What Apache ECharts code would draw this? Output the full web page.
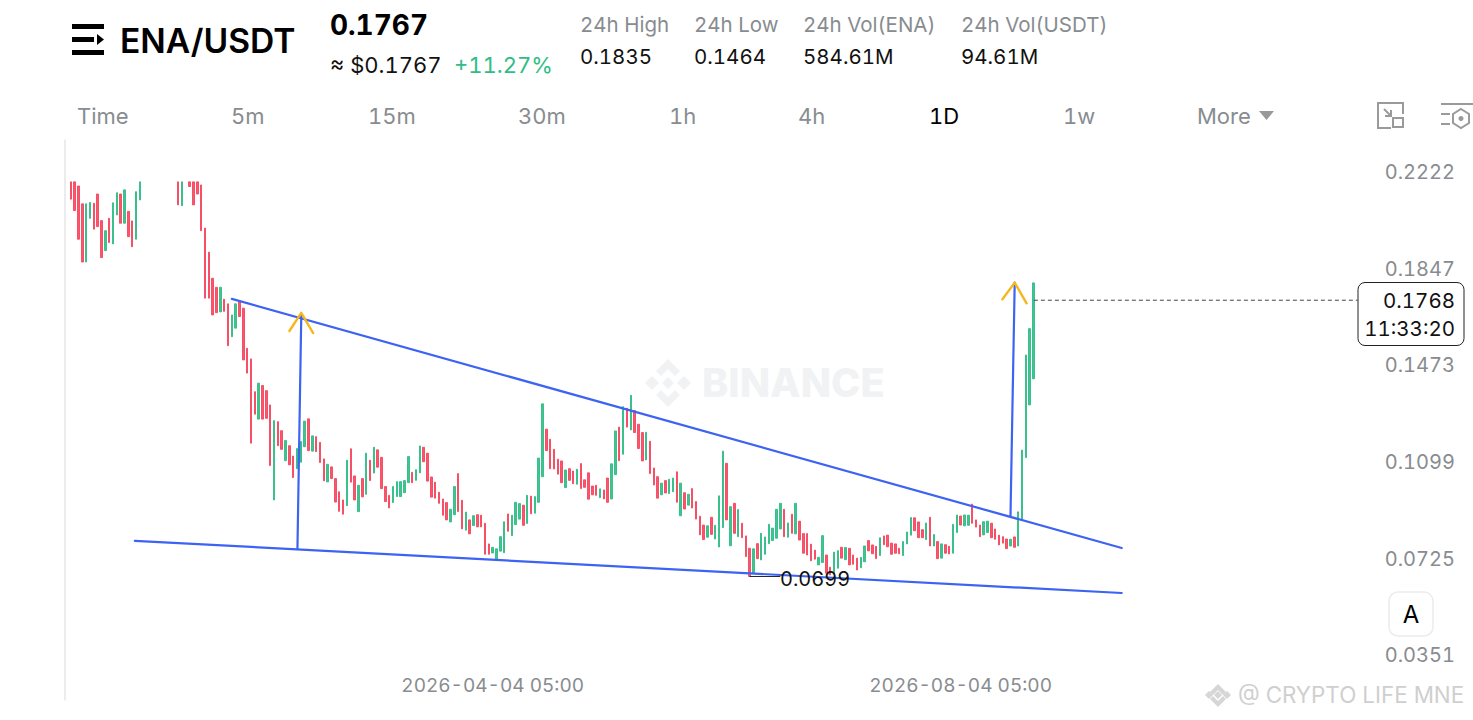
<!DOCTYPE html>
<html><head><meta charset="utf-8">
<style>html,body{margin:0;padding:0;background:#fff}#c{width:1473px;height:720px}#c text{font-variant-numeric:tabular-nums !important;font-feature-settings:"tnum" 1 !important}</style>
<script src="https://cdn.jsdelivr.net/npm/echarts@6/dist/echarts.min.js"></script>
</head><body><div id="c"></div>
<script>
const FONT = 'Inter, "Noto Sans", sans-serif';
const N = null;
// [open, close] per day
const openClose = [
[.2226,.2159],[.2226,.2115],[.2210,.2004],[.2141,.1916],[.1916,.2141],[.2085,.2146],[.2143,.2043],[.2179,.2053],[.2076,.1933],[.1960,.2037],
[.2085,.1991],[.1986,.2145],[.2098,.2184],[.2179,.2066],[.2066,.2195],[.2112,.2014],[.2075,.1975],[.2004,.2188],[.2156,.2226],
N,N,N,N,N,N,N,N,N,
[.2226,.2137],[.2134,.2226],N,[.2226,.2208],[.2226,.2137],[.2226,.2179],[.2214,.2037],[.2047,.1776],[.1954,.1776],[.1853,.1711],
[.1818,.1720],[.1723,.1818],[.1772,.1725],[.1754,.1592],[.1627,.1711],[.1660,.1754],[.1763,.1705],[.1737,.1537],[.1582,.1486],[.1541,.1215],
[.1414,.1327],[.1308,.1447],[.1438,.1308],[.1418,.1311],[.1363,.1128],[.0995,.1302],[.1298,.1205],[.1263,.1191],[.1147,.1225],[.1205,.1131],
[.1165,.1082],[.1116,.1194],[.1141,.1221],[.1201,.1300],[.1309,.1186],[.1184,.1243],[.1240,.1182],[.1218,.1140],[.1154,.1069],[.1065,.1133],
[.1123,.1078],[.1078,.0987],[.1027,.0951],[.0995,.0940],[.0973,.1149],[.1193,.1064],[.1088,.0995],[.0950,.1052],[.1078,.1007],[.1017,.1176],
[.1149,.1070],[.1099,.1199],[.1189,.1122],[.1160,.1039],[.1047,.0989],[.1013,.0964],[.0985,.1047],[.1008,.1066],[.1008,.1066],[.1023,.1070],
[.1062,.1163],[.1102,.1062],[.1071,.1112],[.1100,.1204],[.1199,.1143],[.1176,.1068],[.1084,.1006],[.1064,.1002],[.1025,.0982],[.0999,.0936],
[.0985,.0918],[.0910,.0959],[.0938,.1047],[.1097,.0950],[.0994,.0883],[.0878,.0948],[.0918,.0864],[.0896,.0934],[.0938,.0891],[.0936,.0891],
[.0905,.0785],[.0825,.0785],[.0790,.0812],[.0766,.0806],[.0797,.0853],[.0791,.0911],[.0941,.0874],[.0857,.0936],[.0900,.0986],[.0921,.0981],
[.0975,.0897],[.0904,.1013],[.1010,.0942],[.0944,.1008],[.0986,.1157],[.1085,.1367],[.1269,.1186],[.1230,.1116],[.1191,.1115],[.1153,.1095],
[.1146,.1062],[.1043,.1111],[.1116,.1071],[.1107,.1058],[.1056,.1114],[.1136,.1039],[.1073,.1044],[.1100,.0998],[.1049,.1015],[.1052,.1013],
[.1004,.1038],[.1034,.0999],[.1080,.0986],[.0999,.1135],[.1093,.1262],[.1277,.1147],[.1172,.1356],[.1350,.1277],[.1266,.1400],[.1341,.1256],
[.1288,.1194],[.1256,.1146],[.1150,.1257],[.1222,.1097],[.1119,.1053],[.1085,.1002],[.1015,.1060],[.1070,.1022],[.1020,.1075],[.1027,.1080],
[.1104,.0986],[.0934,.1060],[.1023,.0960],[.0975,.1017],[.1039,.0964],[.0989,.0921],[.0932,.0860],[.0898,.0842],[.0851,.0895],[.0928,.0862],
[.0844,.0897],[.0813,.1011],[.0888,.1184],[.1137,.0918],[.0818,.0969],[.0982,.0866],[.0853,.0958],[.0905,.0849],[.0856,.0776],[.0808,.0699],
[.0712,.0806],[.0826,.0768],[.0763,.0866],[.0785,.0852],[.0826,.0901],[.0838,.0886],[.0847,.0959],[.0883,.0982],[.0959,.0853],[.0851,.0906],
[.0940,.0866],[.0864,.0982],[.0913,.0840],[.0865,.0789],[.0865,.0782],[.0824,.0760],[.0801,.0766],[.0744,.0773],[.0753,.0857],[.0782,.0712],
[.0735,.0705],[.0709,.0793],[.0731,.0799],[.0812,.0770],[.0764,.0811],[.0808,.0744],[.0782,.0746],[.0770,.0724],[.0733,.0773],[.0756,.0817],
[.0838,.0798],[.0821,.0787],[.0816,.0768],[.0780,.0849],[.0856,.0822],[.0859,.0814],[.0828,.0785],[.0825,.0789],[.0808,.0787],[.0780,.0834],
[.0825,.0871],[.0859,.0927],[.0926,.0876],[.0910,.0849],[.0880,.0849],[.0842,.0906],[.0928,.0817],[.0817,.0861],[.0834,.0768],[.0770,.0825],
[.0822,.0789],[.0816,.0786],[.0789,.0901],[.0869,.0937],[.0933,.0898],[.0895,.0937],[.0897,.0936],[.0979,.0905],[.0918,.0890],[.0898,.0853],
[.0860,.0911],[.0869,.0913],[.0905,.0849],[.0883,.0843],[.0859,.0821],[.0853,.0828],[.0844,.0807],[.0817,.0843],[.0852,.0812],[.0817,.0949],
[.0918,.1188],[.1159,.1556],[.1363,.1658],[.1464,.1835]
];
const priceTicks = [0.2222, 0.1847, 0.1473, 0.1099, 0.0725, 0.0351];
const dateTicks = ['2026-04-04 05:00', '2026-08-04 05:00'];
const lastPrice = 0.1768, lowPrice = 0.0699;

// drawn lines: [day position, price]
const upperTrend = [[43.5,.1773],[275.5,.0809]];
const lowerTrend = [[18.2,.0837],[275.5,.0635]];
const arrowShaft1 = [[61.6,.1711],[60.6,.0806]];
const arrowHead1 = [[58.5,.1649],[61.6,.1719],[64.7,.1641]];
const arrowShaft2 = [[247.6,.1836],[246.5,.0931]];
const arrowHead2 = [[244.4,.1772],[247.6,.1836],[250.7,.1756]];
const lastLine = [[252.6,lastPrice],[337,lastPrice]];
const lowLeader = [[178.6,lowPrice],[186.4,lowPrice]];

const navItems = [['Time',77],['5m',231],['15m',368],['30m',518],['1h',669],['4h',798],['1D',929],['1w',1063],['More',1197]];
const statHeads = [['24h High',580],['24h Low',694],['24h Vol(ENA)',803],['24h Vol(USDT)',961]];
const statVals = [['0.1835',580],['0.1464',694],['584.61M',803],['94.61M',961]];

const DAYS = 365, PAD = 1;
const start = Date.UTC(2025, 11, 14);
const categories = [];
for (let i = 0; i < DAYS; i++) categories.push(new Date(start + i * 864e5).toISOString().slice(0, 10) + ' 05:00');

const blank = ['-', '-', '-', '-'];
const candles = categories.map((c, i) => {
  const r = openClose[i - PAD];
  return r ? [r[0], r[1], Math.min(r[0], r[1]), Math.max(r[0], r[1])] : blank;
});

const GREY = '#888c90', BLUE = '#3c63f2', ORANGE = '#f5b71e';
const yMin = 0.0221, yMax = 0.2388;
const lineSeries = (data, color, width, extra) => Object.assign({
  type: 'line', xAxisIndex: 1, yAxisIndex: 0, data, symbol: 'none', silent: true, animation: false, z: 5,
  lineStyle: { color, width, cap: 'round', join: 'round' }
}, extra || {});

const txt = (t, x, y, size, fill, weight, align) => ({
  type: 'text', x, y, silent: true, z: 20,
  style: { text: t, fill, font: `${weight || 400} ${size}px ${FONT}`, textAlign: align || 'left', textVerticalAlign: 'middle' }
});
const diamond = (cx, cy, r, fill) => ({ type: 'polygon', silent: true, z: 1, shape: { points: [[cx, cy - r], [cx + r, cy], [cx, cy + r], [cx - r, cy]] }, style: { fill } });
const chevronUp = (cx, cy, r, w, fill, flip) => {
  const s = flip ? -1 : 1;
  return { type: 'polygon', silent: true, z: 1, shape: { points: [[cx - r, cy + s * r], [cx, cy], [cx + r, cy + s * r], [cx + r - w, cy + s * (r + w)], [cx, cy + s * (2 * w)], [cx - r + w, cy + s * (r + w)]] }, style: { fill } };
};

const graphic = [
  // menu icon
  { type: 'rect', shape: { x: 72, y: 24, width: 32, height: 5 }, style: { fill: '#000' }, silent: true },
  { type: 'rect', shape: { x: 72, y: 37, width: 22, height: 5 }, style: { fill: '#000' }, silent: true },
  { type: 'polygon', shape: { points: [[97, 34], [104, 39.5], [97, 45]] }, style: { fill: '#000' }, silent: true },
  { type: 'rect', shape: { x: 72, y: 50, width: 32, height: 5 }, style: { fill: '#000' }, silent: true },
  txt('ENA/USDT', 120, 40.5, 33.6, '#000', 600),
  txt('0.1767', 330, 24.5, 28, '#000', 700),
  txt('≈ $0.1767', 330, 64.5, 22, '#111', 400),
  txt('+11.27%', 454, 64.5, 22, '#2ebd85', 400),
  ...statHeads.map(s => txt(s[0], s[1], 24.5, 20.5, GREY)),
  ...statVals.map(s => txt(s[0], s[1], 56.5, 20.5, '#111')),
  ...navItems.map(n => txt(n[0], n[1], 115.5, 22, n[0] === '1D' ? '#000' : GREY)),
  { type: 'polygon', shape: { points: [[1259, 111], [1274, 111], [1266.5, 120]] }, style: { fill: '#999' }, silent: true },
  // toolbar icons
  { type: 'polyline', shape: { points: [[1391, 128], [1378, 128], [1378, 103], [1403, 103], [1403, 114]] }, style: { stroke: '#9a9a9a', lineWidth: 2, fill: null }, silent: true },
  { type: 'rect', shape: { x: 1393, y: 118, width: 10, height: 9 }, style: { stroke: '#9a9a9a', lineWidth: 2, fill: null }, silent: true },
  { type: 'polyline', shape: { points: [[1384, 109], [1391, 116]] }, style: { stroke: '#9a9a9a', lineWidth: 2, fill: null }, silent: true },
  { type: 'polyline', shape: { points: [[1385, 116], [1391, 116], [1391, 110]] }, style: { stroke: '#9a9a9a', lineWidth: 2, fill: null }, silent: true },
  { type: 'polyline', shape: { points: [[1441, 104], [1473, 104]] }, style: { stroke: '#9a9a9a', lineWidth: 2 }, silent: true },
  { type: 'polyline', shape: { points: [[1441, 114], [1450, 114]] }, style: { stroke: '#9a9a9a', lineWidth: 2 }, silent: true },
  { type: 'polyline', shape: { points: [[1441, 124], [1450, 124]] }, style: { stroke: '#9a9a9a', lineWidth: 2 }, silent: true },
  { type: 'polygon', shape: { points: [[1461, 109], [1469, 114], [1469, 123], [1461, 128], [1453, 123], [1453, 114]] }, style: { stroke: '#9a9a9a', lineWidth: 2, fill: '#fff' }, silent: true },
  { type: 'circle', shape: { cx: 1461, cy: 118.5, r: 2.5 }, style: { fill: '#9a9a9a' }, silent: true },
  // chart watermark
  chevronUp(668, 359, 12, 5, '#f1f2f3'), chevronUp(668, 407, 12, 5, '#f1f2f3', true),
  diamond(652, 383, 7, '#f1f2f3'), diamond(684, 383, 7, '#f1f2f3'), diamond(668, 383, 6, '#f1f2f3'),
  Object.assign(txt('BINANCE', 702, 383, 39.7, '#f1f2f3', 800), { z: 1 }),
  // last price tag
  { type: 'rect', shape: { x: 1358, y: 282.5, width: 106, height: 63, r: 7 }, style: { fill: '#fff', stroke: '#222', lineWidth: 1 }, silent: true, z: 19 },
  txt('0.1768', 1455, 300, 20.5, '#111', 400, 'right'),
  txt('11:33:20', 1455, 328, 20.5, '#111', 400, 'right'),
  // A button
  { type: 'rect', shape: { x: 1389, y: 592, width: 44, height: 44, r: 9 }, style: { fill: '#fff', stroke: '#ececec', lineWidth: 1.5 }, silent: true, z: 19 },
  txt('A', 1411, 614.5, 24, '#000', 400, 'center'),
  // corner watermark
  chevronUp(1218, 684, 8, 3, '#d6d6d6'), chevronUp(1218, 707, 8, 3, '#d6d6d6', true),
  diamond(1209, 695, 4, '#d6d6d6'), diamond(1227, 695, 4, '#d6d6d6'), diamond(1218, 695, 4, '#d6d6d6'),
  txt('@ CRYPTO LIFE MNE', 1238, 694.5, 22.4, '#cfcfcf', 400)
];

const chart = echarts.init(document.getElementById('c'), null, { renderer: 'svg' });
chart.setOption({
  animation: false,
  backgroundColor: '#fff',
  grid: { left: 65, right: 8, top: 140, bottom: 20, containLabel: false },
  xAxis: [
    {
      type: 'category', data: categories, boundaryGap: true, position: 'bottom',
      axisLine: { show: false }, axisTick: { show: false }, splitLine: { show: false },
      axisLabel: {
        inside: true, margin: 5, color: GREY, fontFamily: FONT, fontSize: 19, hideOverlap: false,
        interval: (i, v) => dateTicks.includes(v)
      }
    },
    { type: 'value', min: 0, max: DAYS, show: false }
  ],
  yAxis: [
    {
      type: 'value', position: 'right', min: yMin, max: yMax, scale: true,
      axisLine: { show: true, lineStyle: { color: '#ececec', width: 1 } },
      axisTick: { show: false }, splitLine: { show: false },
      axisLabel: {
        inside: true, margin: 10, color: GREY, fontFamily: FONT, fontSize: 20,
        customValues: priceTicks, formatter: v => v.toFixed(4),
        verticalAlign: 'bottom', lineHeight: 22, padding: [0, 0, 0, 0]
      }
    },
    {
      type: 'value', position: 'left', min: yMin, max: yMax, offset: 1,
      axisLine: { show: true, lineStyle: { color: '#ececec', width: 1 } },
      axisTick: { show: false }, axisLabel: { show: false }, splitLine: { show: false }
    }
  ],
  series: [
    {
      type: 'candlestick', xAxisIndex: 0, yAxisIndex: 0, data: candles, barWidth: 2, clip: true, z: 3,
      itemStyle: { color: '#2ebd85', color0: '#f6465d', borderColor: '#2ebd85', borderColor0: '#f6465d', borderWidth: 1, opacity: 0.9 }
    },
    lineSeries(upperTrend, BLUE, 2.2),
    lineSeries(lowerTrend, BLUE, 2.2),
    lineSeries(arrowShaft1, BLUE, 2.2),
    lineSeries(arrowShaft2, BLUE, 2.2),
    lineSeries(arrowHead1, ORANGE, 2.4),
    lineSeries(arrowHead2, ORANGE, 2.4),
    lineSeries(lastLine, '#444', 1, { lineStyle: { color: '#444', width: 1, type: [4, 3] } }),
    lineSeries(lowLeader, '#222', 1, {
      endLabel: { show: true, formatter: () => lowPrice.toFixed(4), color: '#111', fontFamily: FONT, fontSize: 20, distance: 0, offset: [0, 3] }
    })
  ],
  graphic
});
</script></body></html>
